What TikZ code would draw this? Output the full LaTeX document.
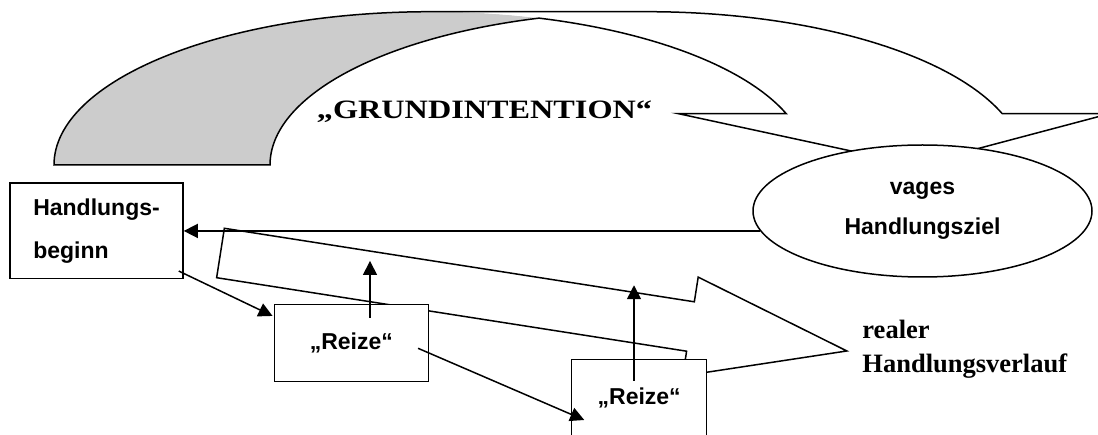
\documentclass[tikz,border=0pt]{standalone}
\usepackage{fontspec}
\setmainfont{Liberation Serif}
\newfontfamily\arialfont{Liberation Sans}
\usetikzlibrary{arrows.meta,calc,shapes.geometric}
\definecolor{bandgray}{RGB}{204,204,204}
\begin{document}
\begin{tikzpicture}[x=1pt,y=1pt,line width=1.5pt,line join=miter,
  box/.style={draw,fill=white,rectangle,inner sep=0pt,
    font={\arialfont\bfseries\fontsize{23}{43}\selectfont}},
  goal/.style={draw,fill=white,ellipse,inner sep=0pt,align=center,
    font={\arialfont\bfseries\fontsize{23}{40}\selectfont}},
  label/.style={inner sep=0pt,font={\bfseries\fontsize{26.5}{34.4}\selectfont}},
  arr/.style={-{Triangle[length=14pt,width=14pt]}},
  ea/.style={x radius=377,y radius=153.3}]
\useasboundingbox (0,0) rectangle (1098,-435);
\fill[white] (0,0) rectangle (1098,-435);
\clip (0,0) rectangle (1098,-435);
% curved "Grundintention" arrow: back (grey) part
\fill[bandgray] (54,-165) arc[start angle=180,end angle=73.35,ea]
   arc[start angle=106.65,end angle=180,ea] -- cycle;
% front (white) part
\fill[white] (678,-113.58) -- (786.16,-113.58) arc[start angle=19.6,end angle=90,ea]
   -- (647,-11.7) arc[start angle=90,end angle=19.6,ea]
   -- (1110,-113.58) -- (916,-165) -- cycle;
% outline
\draw (539,-18.13) arc[start angle=106.65,end angle=180,ea] -- (54,-165)
   arc[start angle=180,end angle=90,ea] -- (647,-11.7)
   arc[start angle=90,end angle=19.6,ea] -- (1110,-113.58) -- (916,-165)
   -- (678,-113.58) -- (786.16,-113.58) arc[start angle=19.6,end angle=73.35,ea];
% real course block arrow
\begin{scope}[shift={(220.5,-253)},rotate=-8.89]
  \draw[fill=white] (0,25) -- (475.7,25) -- (475.7,50) -- (634,0)
     -- (475.7,-50) -- (475.7,-25) -- (0,-25) -- cycle;
\end{scope}
% nodes
\node[goal,minimum width=339,minimum height=132] (ell) at (922.5,-211) {vages\\Handlungsziel};
\node[box,align=left,minimum width=173,minimum height=95.3] (hb) at (96.5,-230.65) {Handlungs-\\beginn};
\node[box,minimum width=154,minimum height=77.4] (r1) at (351.3,-343) {„Reize“};
\node[box,minimum width=135,minimum height=77.4] (r2) at (639.2,-398) {„Reize“};
\node[label,anchor=base] (gi) at (484.5,-118.3) {\scalebox{1.217}[1]{„GRUNDINTENTION“}};
\node[label,anchor=base west,align=left] (rh) at (861.7,-372.7) {realer\\Handlungsverlauf};
% connectors
\coordinate (up1) at ($(r1.north)+(18.7,42.6)$);
\coordinate (up2) at ($(r2.north)+(-5.2,73.3)$);
\draw[arr] (ell.187.4) -- (ell.187.4 -| hb.east);
\draw[arr] ($(hb.south east)+(-5,8)$) -- ($(r1.north west)+(-1,-12.4)$);
\draw[arr] ($(r1.east)+(-11,-5.3)$) -- ($(r2.west)+(13.3,-22)$);
\draw[arr] ($(r1.north)+(18.7,-14)$) -- (up1);
\draw[arr] ($(r2.north)+(-5.2,-22.4)$) -- (up2);
\end{tikzpicture}
\end{document}
